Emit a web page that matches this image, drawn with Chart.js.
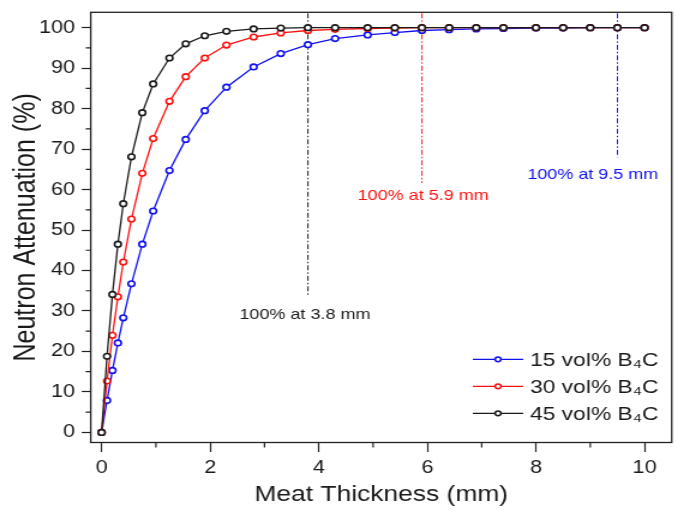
<!DOCTYPE html>
<html><head><meta charset="utf-8">
<script src="https://cdn.jsdelivr.net/npm/chart.js@4.4.1/dist/chart.umd.min.js"></script>
<style>html,body{margin:0;padding:0;background:#fff;overflow:hidden}
#c{display:block;width:678px;height:513px}</style>
</head><body>
<canvas id="c" width="565" height="513" style="width:678px;height:513px"></canvas>
<script>
// ---- data ----
const thickness = [0, 0.1, 0.2, 0.3, 0.4, 0.55, 0.75, 0.95, 1.25, 1.55, 1.9, 2.3, 2.8, 3.3, 3.8, 4.3, 4.9, 5.4, 5.9, 6.4, 6.9, 7.4, 8.0, 8.5, 9.0, 9.5, 10.0];
const att15 = [0, 7.9, 15.3, 22.1, 28.3, 36.7, 46.5, 54.7, 64.7, 72.4, 79.5, 85.3, 90.3, 93.6, 95.8, 97.3, 98.2, 98.8, 99.3, 99.5, 99.7, 99.8, 99.9, 99.9, 100, 100, 100];
const att30 = [0, 12.7, 24.0, 33.5, 42.1, 52.7, 64.0, 72.6, 81.8, 87.9, 92.5, 95.7, 97.7, 98.7, 99.3, 99.6, 99.8, 99.9, 100, 100, 100, 100, 100, 100, 100, 100, 100];
const att45 = [0, 18.8, 34.1, 46.5, 56.5, 68.1, 79.0, 86.1, 92.5, 96.0, 98.0, 99.1, 99.7, 99.9, 100, 100, 100, 100, 100, 100, 100, 100, 100, 100, 100, 100, 100];
const seriesLabels = ['15 vol% B\u2084C', '30 vol% B\u2084C', '45 vol% B\u2084C'];
const xTickLabels = [0, 2, 4, 6, 8, 10];
const xMinorTicks = [1, 3, 5, 7, 9];
const yTickLabels = [0, 10, 20, 30, 40, 50, 60, 70, 80, 90, 100];
const yMinorTicks = [5, 15, 25, 35, 45, 55, 65, 75, 85, 95];
const thresholdX = [3.8, 5.9, 9.5];
const thresholdLabels = ['100% at 3.8 mm', '100% at 5.9 mm', '100% at 9.5 mm'];

// ---- styles ----
const FONT = "'Liberation Sans', Arial, Helvetica, sans-serif";
const TXT = '#1a1a1a';
const colors = ['#1010f0', '#ff1010', '#1a1a1a'];
const annStyle = [
  {color: '#1a1a1a', yEnd: 33.5, dx: -2.5, dy: 18},
  {color: '#ff1010', yEnd: 61.6, dx: 1, dy: 13},
  {color: '#1010f0', yEnd: 68.0, dx: -20.5, dy: 18}
];

function zip(xs, ys) { return xs.map((x, i) => ({x: x, y: ys[i]})); }

const decor = {
  id: 'decor',
  beforeDatasetsDraw(chart) {
    const ctx = chart.ctx, xs = chart.scales.x, ys = chart.scales.y, a = chart.chartArea;
    ctx.save();
    thresholdX.forEach((xv, i) => {
      const st = annStyle[i];
      const px = xs.getPixelForValue(xv);
      const yb = ys.getPixelForValue(st.yEnd);
      ctx.strokeStyle = st.color;
      ctx.lineWidth = 1;
      ctx.setLineDash([5, 2, 1.5, 2]);
      ctx.beginPath();
      ctx.moveTo(px, a.top + 1);
      ctx.lineTo(px, yb);
      ctx.stroke();
      ctx.setLineDash([]);
      ctx.fillStyle = st.color;
      ctx.font = '15px ' + FONT;
      ctx.textAlign = 'center';
      ctx.textBaseline = 'middle';
      ctx.fillText(thresholdLabels[i], px + st.dx, yb + st.dy);
    });
    ctx.restore();
  },
  afterDraw(chart) {
    const ctx = chart.ctx, xs = chart.scales.x, ys = chart.scales.y, a = chart.chartArea;
    ctx.save();
    // frame
    ctx.strokeStyle = '#222';
    ctx.lineWidth = 1.3;
    ctx.strokeRect(a.left, a.top, a.right - a.left, a.bottom - a.top);
    // minor ticks
    ctx.lineWidth = 1.2;
    ctx.beginPath();
    yMinorTicks.forEach(v => { const p = ys.getPixelForValue(v); ctx.moveTo(a.left - 4.2, p); ctx.lineTo(a.left, p); });
    xMinorTicks.forEach(v => { const p = xs.getPixelForValue(v); ctx.moveTo(p, a.bottom); ctx.lineTo(p, a.bottom + 5); });
    ctx.stroke();
    // legend
    const order = [0, 1, 2];
    order.forEach((di, k) => {
      const ds = chart.data.datasets[di];
      const y = a.bottom - 83.2 + k * 27;
      const x0 = a.right - 165.75;
      ctx.strokeStyle = ds.borderColor;
      ctx.lineWidth = 1.3;
      ctx.beginPath(); ctx.moveTo(x0, y); ctx.lineTo(x0 + 42, y); ctx.stroke();
      ctx.fillStyle = '#fff';
      ctx.lineWidth = 1.5;
      ctx.beginPath(); ctx.arc(x0 + 21, y, 2.4, 0, Math.PI * 2); ctx.fill(); ctx.stroke();
      ctx.fillStyle = TXT;
      ctx.font = '19px ' + FONT;
      ctx.textAlign = 'left';
      ctx.textBaseline = 'middle';
      ctx.fillText(ds.label, x0 + 47.7, y + 1);
    });
    ctx.restore();
  }
};

function mkDs(label, ys, color, order) {
  return {
    label: label, data: zip(thickness, ys), borderColor: color, backgroundColor: color,
    borderWidth: 1.3, showLine: true, tension: 0, order: order,
    pointRadius: 2.8, pointBorderWidth: 1.6, pointBackgroundColor: '#fff', pointBorderColor: color,
    pointHoverRadius: 2.8
  };
}

new Chart(document.getElementById('c'), {
  type: 'scatter',
  data: {
    datasets: [
      mkDs(seriesLabels[0], att15, colors[0], 2),
      mkDs(seriesLabels[1], att30, colors[1], 1),
      mkDs(seriesLabels[2], att45, colors[2], 0)
    ]
  },
  options: {
    responsive: false,
    devicePixelRatio: 1,
    animation: false,
    events: [],
    layout: {padding: {top: 12.3, right: 5.25, left: 0, bottom: 0}},
    plugins: {legend: {display: false}, tooltip: {enabled: false}},
    scales: {
      x: {
        type: 'linear', min: -0.2, max: 10.5,
        afterBuildTicks: s => { s.ticks = xTickLabels.map(v => ({value: v})); },
        afterFit: s => { s.height = 70.5; s.paddingLeft = 0; s.paddingRight = 0; },
        grid: {display: true, drawOnChartArea: false, drawTicks: true, tickLength: 9.5, tickColor: '#222', tickWidth: 1.2},
        border: {display: false},
        ticks: {font: {family: FONT, size: 18}, color: TXT, padding: 5, maxRotation: 0, autoSkip: false,
                callback: (v, i) => String(xTickLabels[i])},
        title: {display: true, text: 'Meat Thickness (mm)', font: {family: FONT, size: 22}, color: TXT, padding: {top: 0, bottom: 4.8}}
      },
      y: {
        type: 'linear', min: -2.5, max: 103.8,
        afterBuildTicks: s => { s.ticks = yTickLabels.map(v => ({value: v})); },
        afterFit: s => { s.width = 75.6; s.paddingTop = 0; s.paddingBottom = 0; },
        grid: {display: true, drawOnChartArea: false, drawTicks: true, tickLength: 7.5, tickColor: '#222', tickWidth: 1.2},
        border: {display: false},
        ticks: {font: {family: FONT, size: 18}, color: TXT, padding: 5.6, autoSkip: false,
                callback: (v, i) => String(yTickLabels[i])},
        title: {display: true, text: 'Neutron Attenuation (%)', font: {family: FONT, size: 25}, color: TXT, padding: {top: 6.7, bottom: 0}}
      }
    }
  },
  plugins: [decor]
});
</script>
</body></html>
